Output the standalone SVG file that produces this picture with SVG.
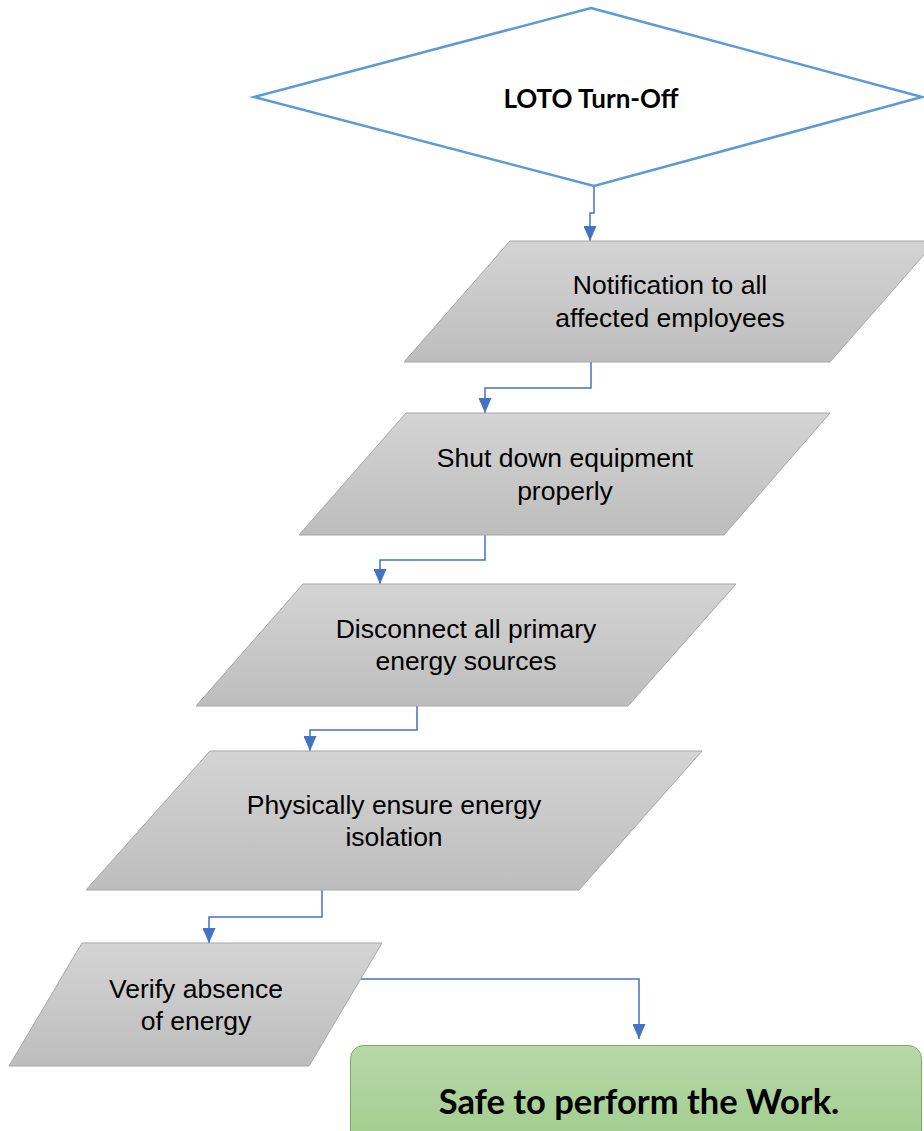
<svg xmlns="http://www.w3.org/2000/svg" width="924" height="1131" viewBox="0 0 924 1131">
  <style>
    .para { fill: url(#gray); stroke: #A6A6A6; stroke-width: 1; }
    .lbl { font-family: "Liberation Sans", Arial, sans-serif; font-size: 26.5px; fill: #000; text-anchor: middle; }
    .bold { font-family: Lato, "Liberation Sans", sans-serif; font-weight: bold; fill: #000; text-anchor: middle; }
    .conn { fill: none; stroke: #4472C4; stroke-width: 1.5; marker-end: url(#arr); }
  </style>
  <defs>
    <linearGradient id="gray" x1="0" y1="0" x2="0" y2="1">
      <stop offset="0" stop-color="#D4D4D4"/>
      <stop offset="1" stop-color="#BDBDBD"/>
    </linearGradient>
    <linearGradient id="green" x1="0" y1="0" x2="0" y2="1">
      <stop offset="0" stop-color="#B7D8A9"/>
      <stop offset="1" stop-color="#9BCA85"/>
    </linearGradient>
    <marker id="arr" viewBox="0 0 15 13" refX="15" refY="6.5" markerWidth="15" markerHeight="13" markerUnits="userSpaceOnUse" orient="auto">
      <path d="M0,0 L15,6.5 L0,13 z" fill="#4472C4"/>
    </marker>
  </defs>

  <g id="connectors">
    <path class="conn" d="M594,186 V213 H590 V241"/>
    <path class="conn" d="M591,362 V388 H485 V413"/>
    <path class="conn" d="M485,535 V560 H380 V584"/>
    <path class="conn" d="M417,706 V730 H310 V751"/>
    <path class="conn" d="M322,890 V917 H209 V943"/>
    <path class="conn" d="M361,979 H639 V1039"/>
  </g>

  <g id="start">
    <polygon points="591,8 922,97 594,186 254,97" fill="#FFFFFF" stroke="#5B9BD5" stroke-width="2.5"/>
    <text class="bold" x="591" y="108" font-size="26">LOTO Turn-Off</text>
  </g>

  <g id="step1">
    <polygon class="para" points="510,241 936,241 830,362 404,362"/>
    <text class="lbl" x="670" y="294">Notification to all</text>
    <text class="lbl" x="670" y="327">affected employees</text>
  </g>

  <g id="step2">
    <polygon class="para" points="406,413 830,413 724,535 299,535"/>
    <text class="lbl" x="565" y="467">Shut down equipment</text>
    <text class="lbl" x="565" y="500">properly</text>
  </g>

  <g id="step3">
    <polygon class="para" points="303,584 736,584 628,706 196,706"/>
    <text class="lbl" x="466" y="638">Disconnect all primary</text>
    <text class="lbl" x="466" y="670">energy sources</text>
  </g>

  <g id="step4">
    <polygon class="para" points="210,751 702,751 579,890 86,890"/>
    <text class="lbl" x="394" y="814">Physically ensure energy</text>
    <text class="lbl" x="394" y="846">isolation</text>
  </g>

  <g id="step5">
    <polygon class="para" points="82,943 382,943 309,1066 9,1066"/>
    <text class="lbl" x="196" y="998">Verify absence</text>
    <text class="lbl" x="196" y="1030">of energy</text>
  </g>

  <g id="end">
    <rect x="350.5" y="1045.5" width="571" height="130" rx="13" ry="13" fill="url(#green)" stroke="#7AB05C" stroke-width="1"/>
    <text class="bold" x="639" y="1114" font-size="34.5">Safe to perform the Work.</text>
  </g>
</svg>
